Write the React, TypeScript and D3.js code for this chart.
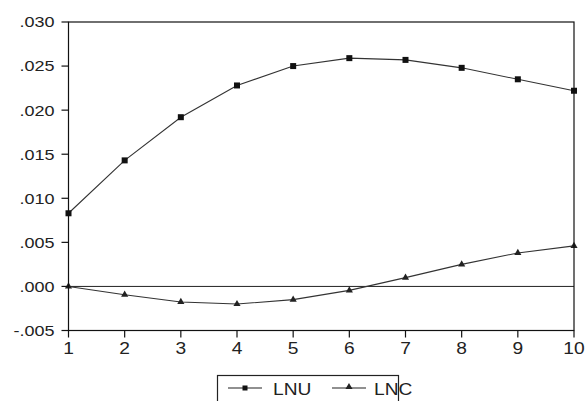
import React from "react";
import * as d3 from "d3";

const periods = [1, 2, 3, 4, 5, 6, 7, 8, 9, 10];
const lnu = [0.0083, 0.0143, 0.0192, 0.0228, 0.025, 0.0259, 0.0257, 0.0248, 0.0235, 0.0222];
const lnc = [0.0, -0.00094, -0.00176, -0.002, -0.0015, -0.00045, 0.001, 0.0025, 0.0038, 0.0046];
const yTicks = [-0.005, 0.0, 0.005, 0.01, 0.015, 0.02, 0.025, 0.03];
const seriesNames = ["LNU", "LNC"];

const W = 586;
const H = 401;
const left = 68.5;
const right = 574;
const top = 22;
const bottom = 330.5;
const font = "'Liberation Sans', Arial, sans-serif";
const SX = 1.2;

function fmt(v: number) {
  const s = Math.abs(v).toFixed(3).replace(/^0\./, ".");
  return (v < 0 ? "-" : "") + s;
}

function T(props: { x: number; y: number; anchor?: string; size: number; dy?: string; children: any }) {
  return (
    <text
      transform={`translate(${props.x},${props.y}) scale(${SX},1)`}
      dy={props.dy}
      textAnchor={props.anchor || "start"}
      fontFamily={font}
      fontSize={props.size}
      fill="#222"
    >
      {props.children}
    </text>
  );
}

export default function App() {
  const x = d3.scaleLinear().domain([1, 10]).range([left, right]);
  const y = d3.scaleLinear().domain([-0.005, 0.03]).range([bottom, top]);
  const line = d3
    .line<number>()
    .x((_, i) => x(periods[i]))
    .y((d) => y(d));
  const tri = d3.symbol().type(d3.symbolTriangle).size(22)();

  return (
    <svg
      width={W}
      height={H}
      style={{ position: "absolute", left: 0, top: 0, background: "#fff" }}
    >
      <rect x={0} y={0} width={W} height={H} fill="#fff" />
      <line x1={left} x2={right} y1={y(0)} y2={y(0)} stroke="#222" strokeWidth={1} />
      <path d={line(lnu) || ""} fill="none" stroke="#333" strokeWidth={1.1} />
      <path d={line(lnc) || ""} fill="none" stroke="#333" strokeWidth={1.1} />
      {lnu.map((v, i) => (
        <rect key={"u" + i} x={x(periods[i]) - 3} y={y(v) - 3} width={6} height={6} fill="#111" />
      ))}
      {lnc.map((v, i) => (
        <path key={"c" + i} d={tri || ""} transform={`translate(${x(periods[i])},${y(v)})`} fill="#222" />
      ))}
      <rect x={left} y={top} width={right - left} height={bottom - top} fill="none" stroke="#111" strokeWidth={1.2} />
      {yTicks.map((t) => (
        <g key={"y" + t}>
          <line x1={left - 7} x2={left} y1={y(t)} y2={y(t)} stroke="#111" strokeWidth={1.2} />
          <T x={left - 14} y={y(t)} dy="0.36em" anchor="end" size={15}>
            {fmt(t)}
          </T>
        </g>
      ))}
      {periods.map((p) => (
        <g key={"x" + p}>
          <line x1={x(p)} x2={x(p)} y1={bottom} y2={bottom + 7} stroke="#111" strokeWidth={1.2} />
          <T x={x(p)} y={bottom + 23} anchor="middle" size={16}>
            {p}
          </T>
        </g>
      ))}
      <rect x={217.5} y={375.5} width={181} height={40} fill="#fff" stroke="#222" strokeWidth={1.2} />
      <line x1={228} x2={262} y1={388} y2={388} stroke="#222" strokeWidth={1.1} />
      <rect x={242.5} y={385.5} width={5} height={5} fill="#111" />
      <T x={273} y={394.5} size={16}>
        {seriesNames[0]}
      </T>
      <line x1={332} x2={366} y1={388} y2={388} stroke="#222" strokeWidth={1.1} />
      <path d={tri || ""} transform="translate(349,387)" fill="#222" />
      <T x={374} y={394.5} size={16}>
        {seriesNames[1]}
      </T>
    </svg>
  );
}
